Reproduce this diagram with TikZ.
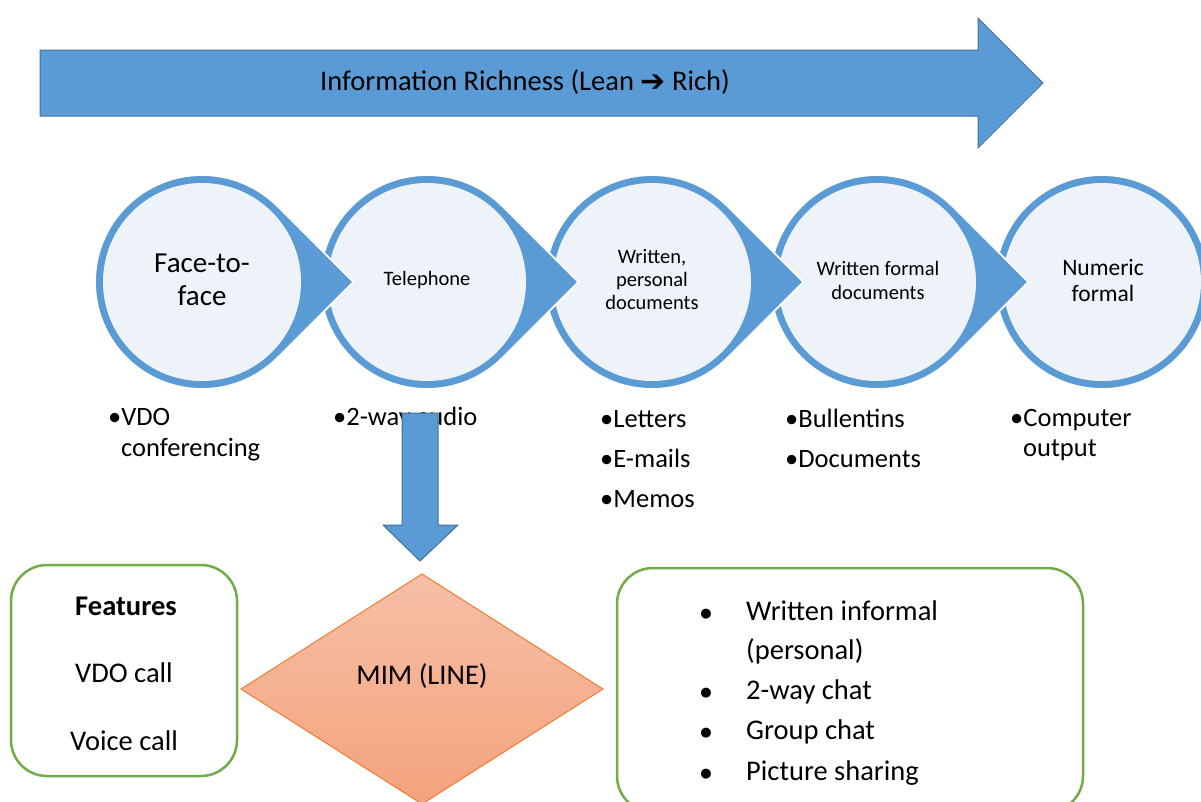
\documentclass[tikz,border=0pt]{standalone}
\usepackage{fontspec}
\setmainfont{Carlito}
\newfontfamily\dejavu{DejaVu Sans}
\usetikzlibrary{shapes.geometric}
\definecolor{bl}{HTML}{5B9BD5}
\definecolor{bld}{HTML}{41719C}
\definecolor{lf}{HTML}{EEF3FA}
\definecolor{gr}{HTML}{70AD47}
\definecolor{orb}{HTML}{ED7D31}
\definecolor{ort}{HTML}{F6BFA6}
\definecolor{orl}{HTML}{F4A37C}
\begin{document}
\begin{tikzpicture}[x=1pt,y=-1pt,
  txt/.style={inner sep=0pt, text=black},
  circtxt/.style={txt, align=center},
  listtxt/.style={txt, anchor=base west, font=\fontsize{26.5}{31}\selectfont},
  boxtxt/.style={txt, anchor=base, font=\fontsize{28.5}{34}\selectfont},
  greenbox/.style={draw=gr, line width=2.5pt, rounded corners=36pt, fill=white},
  bigarrow/.style={fill=bl, draw=bld, line width=1pt, line join=miter}
]
\useasboundingbox (0,0) rectangle (1201,801);
\clip (0,0) rectangle (1201,801);

% top arrow
\draw[bigarrow] (40,50) -- (978,50) -- (978,18) -- (1043,83) -- (978,148) -- (978,116) -- (40,116) -- cycle;
\node[txt, anchor=base, font=\fontsize{28.5}{34}\selectfont] (rich) at (525,90)
  {Information Richness (Lean {\dejavu\fontsize{30}{34}\selectfont\raisebox{-1pt}{➔}} Rich)};

% last circle (no pointer)
\filldraw[fill=bl, draw=white, line width=1.8pt] (1102,282) circle[radius=107];
\fill[lf] (1102,282) circle[radius=99];
% circles with pointers (drawn right to left)
\foreach \cx in {877,652,427,202} {
  \filldraw[fill=bl, draw=white, line width=1.8pt, line join=miter]
    (\cx,282) ++(45:107) arc[start angle=45, end angle=315, radius=107] -- (\cx+151.3,282) -- cycle;
  \fill[lf] (\cx,282) circle[radius=99];
}

\node[circtxt, font=\fontsize{29}{33}\selectfont] (c1) at (202,280) {Face-to-\\face};
\node[circtxt, font=\fontsize{20.5}{23}\selectfont] (c2) at (427,280) {Telephone};
\node[circtxt, font=\fontsize{20.5}{23}\selectfont] (c3) at (652,280) {Written,\\personal\\documents};
\node[circtxt, font=\fontsize{20.5}{24}\selectfont] (c4) at (878,280) {Written formal\\documents};
\node[circtxt, font=\fontsize{23.5}{26}\selectfont] (c5) at (1103,280) {Numeric\\formal};

% lists below circles
\node[listtxt] (l1a) at (108,425) {•VDO};
\node[listtxt] (l1b) at (121,456) {conferencing};
\node[listtxt] (l2a) at (333,425) {•2-way audio};
\node[listtxt] (l3a) at (600,427) {•Letters};
\node[listtxt] (l3b) at (600,467) {•E-mails};
\node[listtxt] (l3c) at (600,507) {•Memos};
\node[listtxt] (l4a) at (785,427) {•Bullentins};
\node[listtxt] (l4b) at (785,467) {•Documents};
\node[listtxt] (l5a) at (1010,426) {•Computer};
\node[listtxt] (l5b) at (1023,456) {output};

% down arrow
\draw[bigarrow] (402,413) -- (438,413) -- (438,525) -- (458,525) -- (420,561) -- (383,525) -- (402,525) -- cycle;

% diamond
\shade[top color=ort, bottom color=orl, draw=orb, line width=1pt]
  (422,574) -- (603,689) -- (422,804) -- (241,689) -- cycle;
\node[boxtxt] (mim) at (422,684) {MIM (LINE)};

% left box
\draw[greenbox] (11,565) rectangle (237,776);
\node[boxtxt, font=\fontsize{28.5}{34}\selectfont\bfseries] (feat) at (126,615) {Features};
\node[boxtxt] (vdo) at (124,682) {VDO call};
\node[boxtxt] (voice) at (124,750) {Voice call};

% right box
\draw[greenbox] (617,568) rectangle (1083,812);
\foreach \yy/\t [count=\i] in {620/Written informal, 699/2-way chat, 739/Group chat, 780/Picture sharing} {
  \node[txt, anchor=base, font=\dejavu\fontsize{13}{16}\selectfont] (b\i) at (706,\yy-3) {●};
  \node[boxtxt, anchor=base west] (r\i) at (746,\yy) {\t};
}
\node[boxtxt, anchor=base west] (r0) at (746,659) {(personal)};
\end{tikzpicture}
\end{document}
